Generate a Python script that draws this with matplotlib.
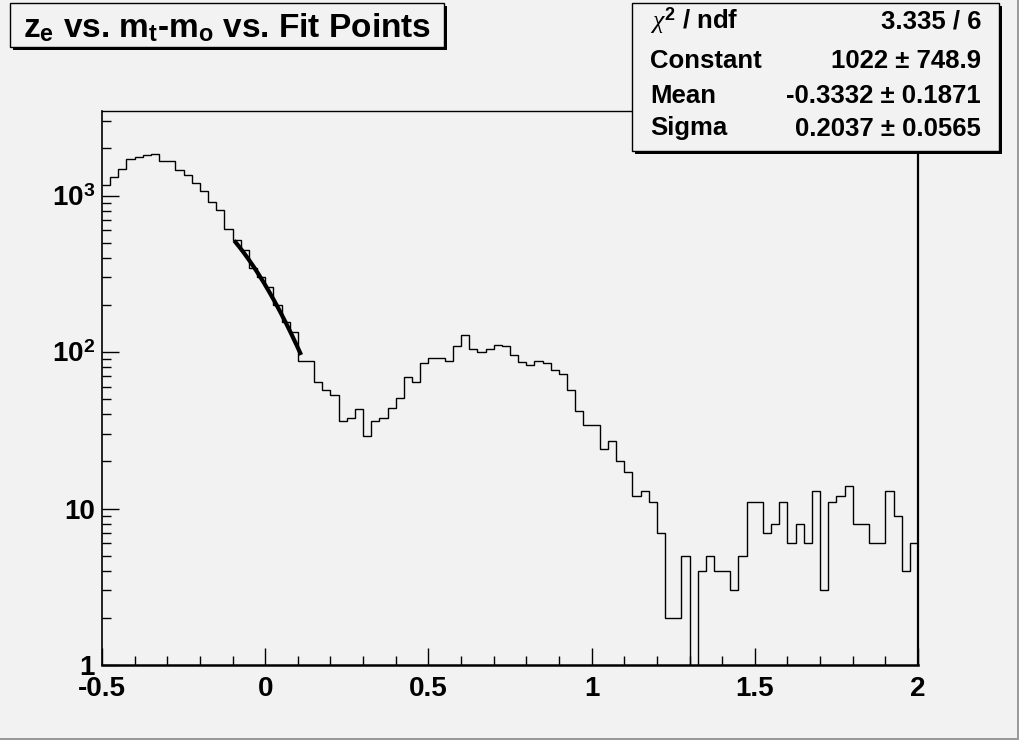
import numpy as np
import matplotlib
matplotlib.use("Agg")
import matplotlib.pyplot as plt
from matplotlib.patches import Rectangle
from matplotlib.ticker import FixedLocator, FixedFormatter, LogLocator, NullFormatter, MultipleLocator

plt.rcParams['font.family'] = ['Liberation Sans', 'DejaVu Sans']
plt.rcParams['mathtext.fontset'] = 'custom'
plt.rcParams['mathtext.rm'] = 'Liberation Sans:bold'
plt.rcParams['mathtext.bf'] = 'Liberation Sans:bold'
plt.rcParams['mathtext.it'] = 'Liberation Serif:italic'

# ---------------- data ----------------
x_min, x_max, n_bins = -0.5, 2.0, 100
counts = [
    1167, 1319, 1483, 1702, 1770, 1807, 1834, 1667, 1667, 1466,
    1358, 1208, 1070, 908, 804, 608, 520, 449, 343, 303,
    259, 200, 156, 134, 88, 88, 64, 57, 53, 36,
    38, 43, 29, 36, 38, 44, 51, 69, 64, 85,
    92, 92, 87, 110, 128, 105, 100, 104, 111, 109,
    96, 86, 83, 87, 85, 77, 72, 57, 42, 34,
    34, 24, 27, 20, 17, 12, 13, 11, 7, 2,
    2, 5, 0, 4, 5, 4, 4, 3, 5, 11,
    11, 7, 8, 11, 6, 8, 6, 13, 3, 11,
    12, 14, 8, 8, 6, 6, 13, 9, 4, 6,
]
fit_constant, fit_mean, fit_sigma = 1022.0, -0.3332, 0.2037
fit_range = (-0.095, 0.11)

title_text = r"$\mathbf{z}_{\mathbf{e}}$ vs. $\mathbf{m}_{\mathbf{t}}$-$\mathbf{m}_{\mathbf{o}}$ vs. Fit Points"
stats_names = [r"$\chi^{2}$ / ndf", "Constant", "Mean", "Sigma"]
stats_values = ["3.335 / 6", "1022 \u00b1 748.9", "-0.3332 \u00b1 0.1871", "0.2037 \u00b1 0.0565"]

x_tick_values = [-0.5, 0, 0.5, 1, 1.5, 2]
x_tick_labels = ["-0.5", "0", "0.5", "1", "1.5", "2"]
y_tick_values = [1, 10, 100, 1000]
y_tick_labels = ["1", "10", "$10^{2}$", "$10^{3}$"]
y_limits = (1, 3470)

# ---------------- figure ----------------
W, H = 1020, 740
bg = '#f2f2f2'
fig = plt.figure(figsize=(W / 100, H / 100), dpi=100, facecolor=bg)

def fx(px):
    return px / W

def fy(py):
    return 1 - py / H

ax = fig.add_axes([fx(102), fy(665), fx(918) - fx(102), fy(111) - fy(665)])
ax.set_facecolor(bg)

edges = np.linspace(x_min, x_max, n_bins + 1)
ax.stairs(counts, edges, color='black', linewidth=1.0, baseline=None)

xf = np.linspace(fit_range[0], fit_range[1], 200)
yf = fit_constant * np.exp(-0.5 * ((xf - fit_mean) / fit_sigma) ** 2)
ax.plot(xf, yf, color='black', linewidth=3.0, solid_capstyle='butt')

ax.set_yscale('log')
ax.set_xlim(x_min, x_max)
ax.set_ylim(*y_limits)

ax.xaxis.set_major_locator(FixedLocator(x_tick_values))
ax.xaxis.set_major_formatter(FixedFormatter(x_tick_labels))
ax.xaxis.set_minor_locator(MultipleLocator(0.1))
ax.yaxis.set_major_locator(FixedLocator(y_tick_values))
ax.yaxis.set_major_formatter(FixedFormatter(y_tick_labels))
ax.yaxis.set_minor_locator(LogLocator(base=10, subs=np.arange(2, 10)))
ax.yaxis.set_minor_formatter(NullFormatter())

ax.tick_params(which='both', direction='in', top=False, right=False, width=1.0, color='black')
ax.tick_params(which='major', length=12)
ax.tick_params(which='minor', length=6.5)
ax.tick_params(axis='x', which='major', labelsize=20, pad=8)
ax.tick_params(axis='y', which='major', labelsize=20, pad=5)
for lab in ax.get_xticklabels() + ax.get_yticklabels():
    lab.set_fontweight('bold')

for s in ax.spines.values():
    s.set_linewidth(1.0)
ax.spines['bottom'].set_linewidth(1.8)
ax.spines['left'].set_linewidth(1.2)
ax.spines['right'].set_linewidth(1.6)

# ---------------- boxes ----------------
def box(x0, y0, x1, y1, shadow=3):
    fig.add_artist(Rectangle((fx(x0 + shadow), fy(y1 + shadow)), fx(x1 - x0), fy(y0) - fy(y1),
                             transform=fig.transFigure, facecolor='black', edgecolor='none', zorder=5))
    fig.add_artist(Rectangle((fx(x0), fy(y1)), fx(x1 - x0), fy(y0) - fy(y1),
                             transform=fig.transFigure, facecolor=bg, edgecolor='black',
                             linewidth=1.0, zorder=6))

box(10, 3, 444, 47)
fig.text(fx(227), fy(37), title_text, ha='center', va='baseline', fontsize=24,
         fontweight='bold', zorder=7)

box(632, 3, 999, 151)
baselines = [28.5, 68.5, 103.0, 135.5]
for name, val, b in zip(stats_names, stats_values, baselines):
    fig.text(fx(650), fy(b), name, ha='left', va='baseline', fontsize=18.5,
             fontweight='bold', zorder=7)
    fig.text(fx(981), fy(b), val, ha='right', va='baseline', fontsize=18.5,
             fontweight='bold', zorder=7)

# canvas bevel edges
fig.add_artist(Rectangle((fx(1017), 0), fx(3), 1, transform=fig.transFigure,
                         facecolor='#9a9a9a', edgecolor='none', zorder=8))
fig.add_artist(Rectangle((0, 0), 1, fy(738), transform=fig.transFigure,
                         facecolor='#9a9a9a', edgecolor='none', zorder=8))

fig.savefig('out.png', dpi=100, facecolor=bg)
